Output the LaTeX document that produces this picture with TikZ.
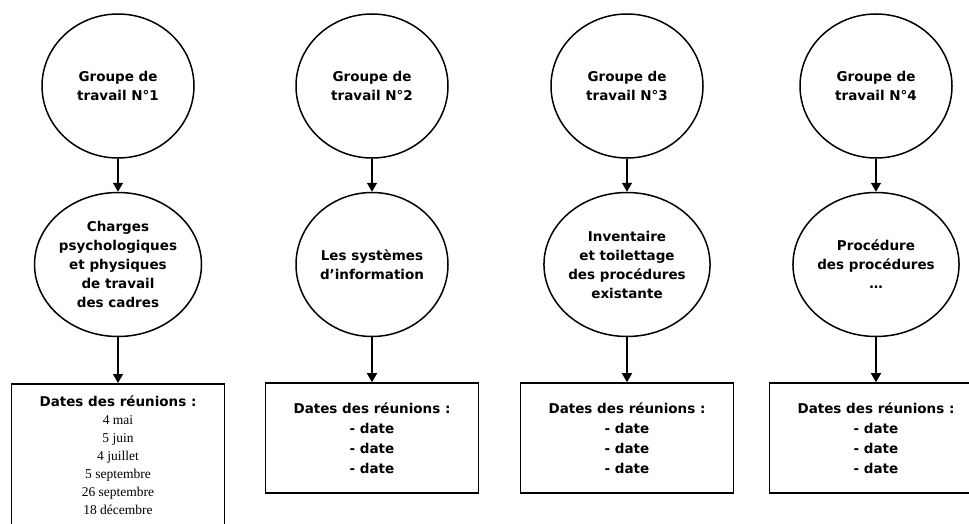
\documentclass[tikz,border=0pt]{standalone}
\usepackage{fontspec}
\setmainfont{DejaVu Sans}
\newfontfamily\datefont{Liberation Serif}
\usetikzlibrary{arrows.meta,shapes.geometric}
\begin{document}
\begin{tikzpicture}[x=1pt,y=-1pt,
  bubble/.style={draw,line width=1.5pt,ellipse,minimum width=152pt,minimum height=144pt,
    inner sep=0pt,align=center,font=\fontsize{13.5}{19}\selectfont\bfseries},
  datebox/.style={draw,line width=1.6pt,rectangle,minimum width=213pt,minimum height=110pt,
    inner sep=0pt,align=center,font=\fontsize{13.5}{20}\selectfont\bfseries},
  link/.style={line width=1.5pt,-{Triangle[width=10pt,length=9pt]}}]
\clip (0,0) rectangle (969,524);
\fill[white] (0,0) rectangle (969,524);

% working groups
\node[bubble] (g1) at (118,86) {Groupe de\\travail N°1};
\node[bubble] (g2) at (372,86) {Groupe de\\travail N°2};
\node[bubble] (g3) at (627,86) {Groupe de\\travail N°3};
\node[bubble] (g4) at (876,86) {Groupe de\\travail N°4};

% themes
\node[bubble] (t1) at (118,264.5) {Charges\\psychologiques\\et physiques\\de travail\\des cadres};
\node[bubble] (t2) at (372,264.5) {Les systèmes\\d'information};
\node[bubble] (t3) at (627,264.5) {Inventaire\\et toilettage\\des procédures\\existante};
\node[bubble] (t4) at (876,264.5) {Procédure\\des procédures\\…};

% meeting dates
\node[datebox,anchor=north,inner ysep=12pt,font=\fontsize{13.5}{18}\selectfont\bfseries] (d1) at (118,383)
  {Dates des réunions :\\{\datefont\mdseries 4 mai}\\{\datefont\mdseries 5 juin}\\{\datefont\mdseries 4 juillet}\\
   {\datefont\mdseries 5 septembre}\\{\datefont\mdseries 26 septembre}\\{\datefont\mdseries 18 décembre}};
\node[datebox] (d2) at (372,438) {Dates des réunions :\\- date\\- date\\- date};
\node[datebox] (d3) at (627,438) {Dates des réunions :\\- date\\- date\\- date};
\node[datebox] (d4) at (876,438) {Dates des réunions :\\- date\\- date\\- date};

% connectors
\foreach \i in {1,2,3,4}{
  \draw[link] (g\i.south) -- (t\i.north);
  \draw[link] (t\i.south) -- (d\i.north);
}
\end{tikzpicture}
\end{document}
